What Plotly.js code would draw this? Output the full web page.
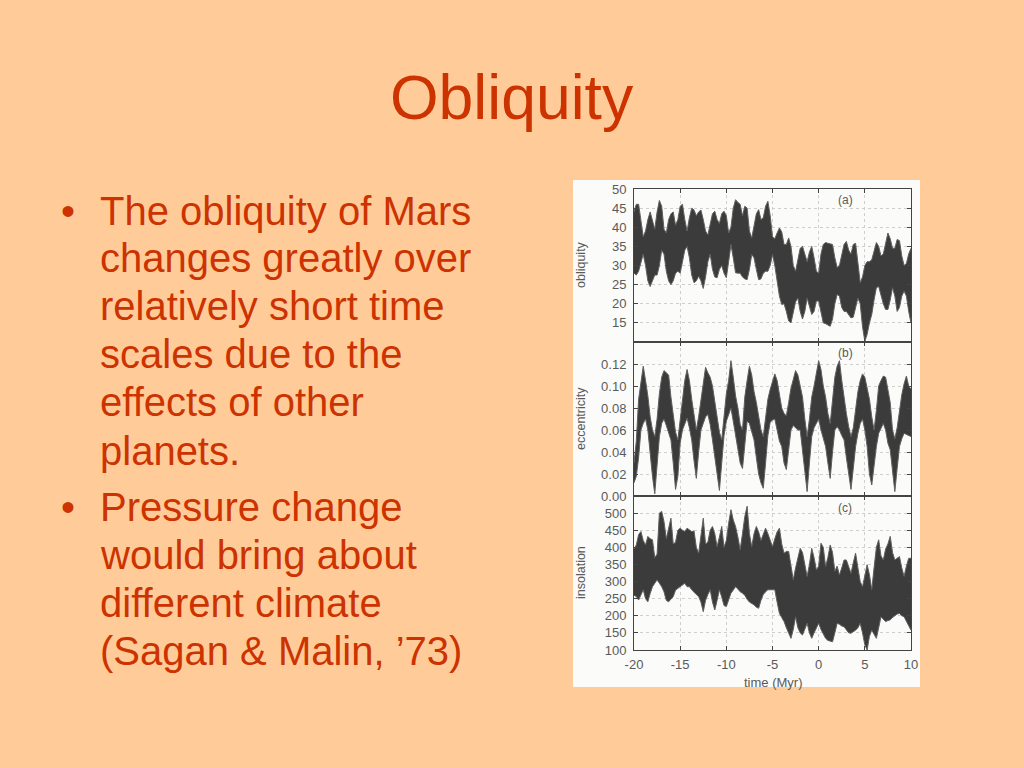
<!DOCTYPE html>
<html><head><meta charset="utf-8">
<script src="https://cdn.plot.ly/plotly-3.0.1.min.js"></script>
<style>html,body{margin:0;padding:0;background:#FFCC99}#c{width:1024px;height:768px}</style>
</head><body><div id="c"></div>
<script>
const slideTitle = "Obliquity";
const bulletLines = ["The obliquity of Mars","changes greatly over","relatively short time","scales due to the","effects of other","planets.","Pressure change","would bring about","different climate","(Sagan & Malin, ’73)"];
const bulletStarts = [0,6];

const timeMyr = [
-20,-19.75,-19.5,-19.25,-19,-18.75,-18.5,-18.25,
-18,-17.75,-17.5,-17.25,-17,-16.75,-16.5,-16.25,
-16,-15.75,-15.5,-15.25,-15,-14.75,-14.5,-14.25,
-14,-13.75,-13.5,-13.25,-13,-12.75,-12.5,-12.25,
-12,-11.75,-11.5,-11.25,-11,-10.75,-10.5,-10.25,
-10,-9.75,-9.5,-9.25,-9,-8.75,-8.5,-8.25,
-8,-7.75,-7.5,-7.25,-7,-6.75,-6.5,-6.25,
-6,-5.75,-5.5,-5.25,-5,-4.75,-4.5,-4.25,
-4,-3.75,-3.5,-3.25,-3,-2.75,-2.5,-2.25,
-2,-1.75,-1.5,-1.25,-1,-0.75,-0.5,-0.25,
0,0.25,0.5,0.75,1,1.25,1.5,1.75,
2,2.25,2.5,2.75,3,3.25,3.5,3.75,
4,4.25,4.5,4.75,5,5.25,5.5,5.75,
6,6.25,6.5,6.75,7,7.25,7.5,7.75,
8,8.25,8.5,8.75,9,9.25,9.5,9.75,
10];

const obliquityUpper = [
44,46,46,41,37.5,39,42,44,
41.5,39.5,44,47,45.5,39.5,38.5,42,
43.5,44,40.5,42,45.5,46,42,39,
42.5,45,44.5,43,44,44.5,42,39,
38,40.5,43.5,44.2,42,41,43.5,44.2,
43,38.5,40,45,47.2,46.5,46,43,
45.5,45,39,37.2,40,43.5,44.6,42,
42.5,45.5,46.8,43,37.5,37,38.5,39.8,
38.8,35.5,35.5,37.2,35,30,28.5,32,
34.5,35,33,31,33.5,35,32,28.5,
28,33,35.5,36,35.8,35.7,35.5,32,
29.5,30,33,35.5,36.3,34,33,35.5,
35.8,30,25.5,27,30,31,31,31.5,
33.5,36,35,32.5,33,36,38.5,37,
34.5,34.5,36.8,36.5,32.5,30,30.5,33,
34.5];
const obliquityLower = [
28,27.5,28.5,31,33,30,26,24.5,
26,27.5,27.5,30,34,33,28.5,26,
25,26,28,28.5,28,31,34,35,
32,27.5,25.5,26,27.2,26,24,27,
31,33,29,27,26.8,29,30,28,
26.8,31,35.5,32,28.1,28,28,27,
26.5,26.3,29,32.9,32,29,26.3,26.5,
28,28.5,28.5,30,32.9,30,26,22,
19.8,20,18,15.5,15,18,20.5,21.5,
18,16,18,21.5,19,17.2,18,20.7,
20.7,18,15,14.8,14.5,14.1,16,20,
22.4,22,19,18,18,17,16.3,16.5,
19,21.5,20,14,10.2,12,15,17.2,
21,24.2,24.5,22,20,18.5,18.5,21,
24.2,22,18,19,22,23.3,22,18,
15];

const eccUpper = [
0.03,0.05,0.088,0.105,0.118,0.105,0.091,0.072,
0.06,0.054,0.07,0.093,0.108,0.114,0.112,0.11,
0.09,0.075,0.058,0.051,0.07,0.085,0.105,0.115,
0.105,0.088,0.072,0.06,0.072,0.088,0.105,0.117,
0.112,0.108,0.1,0.085,0.07,0.058,0.051,0.07,
0.093,0.105,0.123,0.108,0.091,0.08,0.065,0.06,
0.09,0.105,0.118,0.11,0.095,0.085,0.072,0.06,
0.054,0.07,0.088,0.097,0.105,0.111,0.105,0.093,
0.08,0.075,0.073,0.085,0.098,0.106,0.114,0.11,
0.1,0.09,0.07,0.054,0.07,0.09,0.1,0.113,
0.123,0.115,0.1,0.09,0.075,0.066,0.085,0.108,
0.118,0.123,0.105,0.088,0.075,0.063,0.054,0.062,
0.08,0.095,0.105,0.111,0.108,0.098,0.088,0.072,
0.06,0.078,0.1,0.105,0.109,0.108,0.095,0.085,
0.06,0.052,0.062,0.078,0.092,0.102,0.109,0.1,
0.097];
const eccLower = [
0.012,0.018,0.035,0.06,0.066,0.07,0.06,0.036,
0.018,0.002,0.03,0.054,0.066,0.07,0.064,0.058,
0.051,0.03,0.006,0.018,0.048,0.06,0.066,0.071,
0.062,0.051,0.032,0.016,0.04,0.06,0.066,0.072,
0.074,0.065,0.051,0.035,0.018,0.005,0.03,0.055,
0.068,0.074,0.08,0.068,0.054,0.042,0.03,0.025,
0.05,0.068,0.066,0.058,0.051,0.035,0.02,0.012,
0.007,0.03,0.055,0.067,0.069,0.07,0.06,0.05,
0.045,0.03,0.024,0.04,0.06,0.064,0.062,0.06,
0.06,0.04,0.02,0.004,0.03,0.054,0.062,0.066,
0.07,0.06,0.052,0.045,0.03,0.016,0.04,0.06,
0.063,0.06,0.055,0.051,0.035,0.02,0.006,0.025,
0.045,0.057,0.066,0.07,0.06,0.045,0.02,0.01,
0.03,0.045,0.057,0.062,0.066,0.06,0.048,0.042,
0.02,0.004,0.025,0.045,0.052,0.057,0.056,0.055,
0.054];

const insUpper = [
395,407,437,446,420,407,432,425,
422,370,380,500,505,475,425,455,
485,410,415,450,456,450,446,456,
452,446,448,400,383,440,485,410,
415,450,461,440,402,430,461,400,
420,470,510,480,461,430,393,440,
490,520,440,402,440,461,445,420,
440,456,440,420,402,425,445,456,
410,383,388,388,340,305,340,370,
397,385,345,315,350,397,370,334,
345,412,400,344,370,407,385,330,
345,319,340,363,363,340,324,355,
383,340,300,285,320,349,320,276,
340,400,422,375,363,395,410,432,
385,363,368,373,340,315,345,368,
368];
const insLower = [
260,256,246,262,276,250,241,265,
285,295,305,295,285,270,245,241,
250,256,275,280,285,290,295,285,
285,276,268,262,256,240,212,245,
262,276,240,217,245,276,255,230,
227,250,266,275,285,278,270,266,
260,248,240,236,232,225,222,245,
262,270,276,276,276,276,240,207,
195,183,165,150,134,160,197,165,
150,144,160,178,150,134,150,165,
178,160,145,134,128,126,124,150,
178,175,170,168,158,150,149,153,
158,165,178,150,115,100,140,158,
145,134,165,197,190,183,186,188,
195,200,205,207,200,197,185,170,
158];

const timeTicks = [-20,-15,-10,-5,0,5,10];
const timeTickText = ["-20","-15","-10","-5","0","5","10"];
const obliquityTicks = [15,20,25,30,35,40,45,50];
const eccTicks = [0,0.02,0.04,0.06,0.08,0.1,0.12];
const eccTickText = ["0.00","0.02","0.04","0.06","0.08","0.10","0.12"];
const insTicks = [100,150,200,250,300,350,400,450,500];
const lineCentres = [211,258,306,354,402,451,507,555,603,651];

const W=1024,H=768;
const px=v=>v/W, py=v=>1-v/H;
const BAND="#3b3b3b", EDGE="#5f5f5f", INK="#5a5a5a", GRID="#cfcfcf", RED="#CC3300";
const font={family:"Liberation Sans, Arial, sans-serif"};

function band(low,up,xa,ya){
  return [
    {x:timeMyr,y:low,xaxis:xa,yaxis:ya,mode:"lines",line:{color:EDGE,width:1},hoverinfo:"skip",showlegend:false},
    {x:timeMyr,y:up,xaxis:xa,yaxis:ya,mode:"lines",line:{color:EDGE,width:1},fill:"tonexty",fillcolor:BAND,hoverinfo:"skip",showlegend:false}
  ];
}
const data=[].concat(band(obliquityLower,obliquityUpper,"x","y"),band(eccLower,eccUpper,"x2","y2"),band(insLower,insUpper,"x3","y3"));

const xBase=(anchor,labels)=>({domain:[px(634),px(911)],range:[-20,10],anchor,tickmode:"array",tickvals:timeTicks,ticktext:timeTickText,
  showticklabels:labels,ticks:"inside",ticklen:4,tickcolor:"#444",mirror:"ticks",showline:true,linecolor:"#444",linewidth:1,ticklabelstandoff:2,
  showgrid:true,gridcolor:GRID,griddash:"dot",gridwidth:1,zeroline:false,tickfont:{...font,size:13,color:INK}});
const yBase=(anchor,top,bottom,range,vals,text)=>({domain:[py(bottom),py(top)],range,anchor,tickmode:"array",tickvals:vals,ticktext:text,
  ticks:"inside",ticklen:4,tickcolor:"#444",mirror:"ticks",showline:true,linecolor:"#444",linewidth:1,ticklabelstandoff:4,
  showgrid:true,gridcolor:GRID,griddash:"dot",gridwidth:1,zeroline:false,tickfont:{...font,size:13,color:INK}});

const notes=[];
bulletLines.forEach((t,i)=>notes.push({text:t,xref:"paper",yref:"paper",x:px(98),y:py(lineCentres[i]),xanchor:"left",yanchor:"middle",showarrow:false,font:{...font,size:40,color:RED}}));
bulletStarts.forEach(i=>notes.push({text:"•",xref:"paper",yref:"paper",x:px(59),y:py(lineCentres[i]),xanchor:"left",yanchor:"middle",showarrow:false,font:{...font,size:40,color:RED}}));
[["(a)",200],["(b)",353],["(c)",508]].forEach(([t,y])=>notes.push({text:t,xref:"paper",yref:"paper",x:px(845),y:py(y),xanchor:"center",yanchor:"middle",showarrow:false,font:{...font,size:12,color:INK}}));
[["obliquity",265],["eccentricity",419],["insolation",573]].forEach(([t,y])=>notes.push({text:t,textangle:-90,xref:"paper",yref:"paper",x:px(581),y:py(y),xanchor:"center",yanchor:"middle",showarrow:false,font:{...font,size:12.5,color:INK}}));
notes.push({text:"time (Myr)",xref:"paper",yref:"paper",x:px(773),y:py(682),xanchor:"center",yanchor:"middle",showarrow:false,font:{...font,size:13,color:INK}});
notes.push({text:slideTitle,xref:"paper",yref:"paper",x:0.5,y:py(97),xanchor:"center",yanchor:"middle",showarrow:false,font:{...font,size:62.5,color:RED}});

const layout={
  width:W,height:H,margin:{l:0,r:0,t:0,b:0},paper_bgcolor:"#FFCC99",plot_bgcolor:"rgba(0,0,0,0)",showlegend:false,
  xaxis:xBase("y",false),yaxis:yBase("x",189,342,[10,50],obliquityTicks),
  xaxis2:xBase("y2",false),yaxis2:yBase("x2",342,496,[0,0.14],eccTicks,eccTickText),
  xaxis3:xBase("y3",true),yaxis3:yBase("x3",496,650,[100,550],insTicks),
  shapes:[{type:"rect",xref:"paper",yref:"paper",x0:px(573),x1:px(920),y0:py(180),y1:py(687),fillcolor:"#FBFBF9",line:{width:0},layer:"below"}],
  annotations:notes
};
Plotly.newPlot("c",data,layout,{displayModeBar:false,staticPlot:true});
</script></body></html>
